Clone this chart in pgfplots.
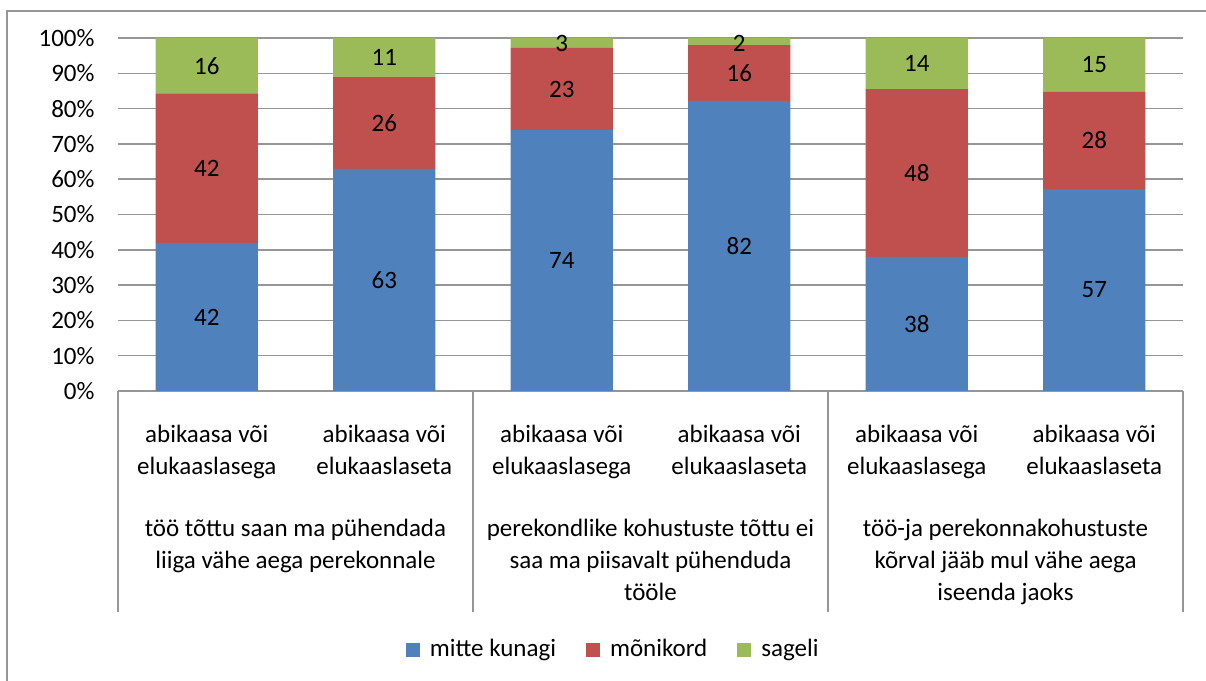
\documentclass[border=0pt]{standalone}
\usepackage{fontspec}
\setmainfont{Carlito}
\usepackage{pgfplots}
\pgfplotsset{compat=1.18}
\definecolor{cblue}{HTML}{4F81BD}
\definecolor{cred}{HTML}{C0504D}
\definecolor{cgreen}{HTML}{9BBB59}
\definecolor{gridc}{RGB}{150,150,150}
\begin{document}
\fontsize{25bp}{32bp}\selectfont
\begin{tikzpicture}[x=1bp,y=1bp]
\useasboundingbox (0,0) rectangle (1206,681);
\draw[gridc, line width=2bp] (7,-20) -- (7,670) -- (1230,670);
\begin{axis}[
  at={(118bp,290bp)}, anchor=south west,
  scale only axis, width=1065bp, height=353bp,
  ybar stacked, bar width=0.575,
  xmin=-0.5, xmax=5.5, ymin=0, ymax=100,
  ytick={0,10,...,100},
  yticklabel={\pgfmathprintnumber{\tick}\%},
  /pgf/number format/assume math mode=true,
  yticklabel style={xshift=-15bp},
  ymajorgrids, grid style={gridc, line width=1.5bp},
  axis line style={draw=none},
  major tick length=0pt,
  xtick={0,...,5},
  xticklabels={{abikaasa või\\elukaaslasega},{abikaasa või\\elukaaslaseta},{abikaasa või\\elukaaslasega},{abikaasa või\\elukaaslaseta},{abikaasa või\\elukaaslasega},{abikaasa või\\elukaaslaseta}},
  xticklabel style={align=center, yshift=-26bp},
  extra x ticks={0.5,2.5,4.5},
  extra x tick labels={{töö tõttu saan ma pühendada\\liiga vähe aega perekonnale},{perekondlike kohustuste tõttu ei\\saa ma piisavalt pühenduda\\tööle},{töö-ja perekonnakohustuste\\kõrval jääb mul vähe aega\\iseenda jaoks}},
  extra x tick style={xticklabel style={yshift=-94bp}},
  clip=false,
  legend columns=3,
  legend style={draw=none, at={(0.465,-0.734)}, anchor=center, font=\fontsize{25bp}{28bp}\selectfont,
    /tikz/every even column/.append style={column sep=28bp}},
  legend image code/.code={\fill[#1] (0bp,-7bp) rectangle (14bp,7bp); \path (22bp,0bp);},
]
\addplot[fill=cblue, draw=none] coordinates {(0,41.9) (1,62.9) (2,73.9) (3,82.2) (4,38.0) (5,57.2)};
\addplot[fill=cred, draw=none] coordinates {(0,42.4) (1,26.0) (2,23.3) (3,15.8) (4,47.5) (5,27.5)};
\addplot[fill=cgreen, draw=none] coordinates {(0,15.7) (1,11.1) (2,2.8) (3,2.0) (4,14.5) (5,15.3)};
\legend{mitte kunagi, mõnikord, sageli}
\draw[gridc, line width=1.5bp] (axis cs:-0.5,0) -- (axis cs:5.5,0);
\draw[gridc, line width=1.5bp] (axis cs:-0.5,0) -- (axis cs:-0.5,-62.6);
\draw[gridc, line width=1.5bp] (axis cs:1.5,0) -- (axis cs:1.5,-62.6);
\draw[gridc, line width=1.5bp] (axis cs:3.5,0) -- (axis cs:3.5,-62.6);
\draw[gridc, line width=1.5bp] (axis cs:5.5,0) -- (axis cs:5.5,-62.6);
\end{axis}
\begin{axis}[
  at={(118bp,290bp)}, anchor=south west,
  scale only axis, width=1065bp, height=353bp,
  xmin=-0.5, xmax=5.5, ymin=0, ymax=100,
  hide axis, clip=false,
]
\addplot[draw=none, mark=none, nodes near coords, point meta=explicit symbolic,
  every node near coord/.append style={anchor=center, font=\fontsize{25bp}{28bp}\selectfont}]
  coordinates {
  (0,20.95)[42] (0,63.1)[42] (0,92.15)[16]
  (1,31.45)[63] (1,75.9)[26] (1,94.45)[11]
  (2,36.95)[74] (2,85.55)[23] (2,98.4)[3]
  (3,41.1)[82] (3,90.1)[16] (3,98.6)[2]
  (4,19.0)[38] (4,61.75)[48] (4,92.75)[14]
  (5,28.6)[57] (5,70.95)[28] (5,92.35)[15]
  };
\end{axis}
\end{tikzpicture}
\end{document}
